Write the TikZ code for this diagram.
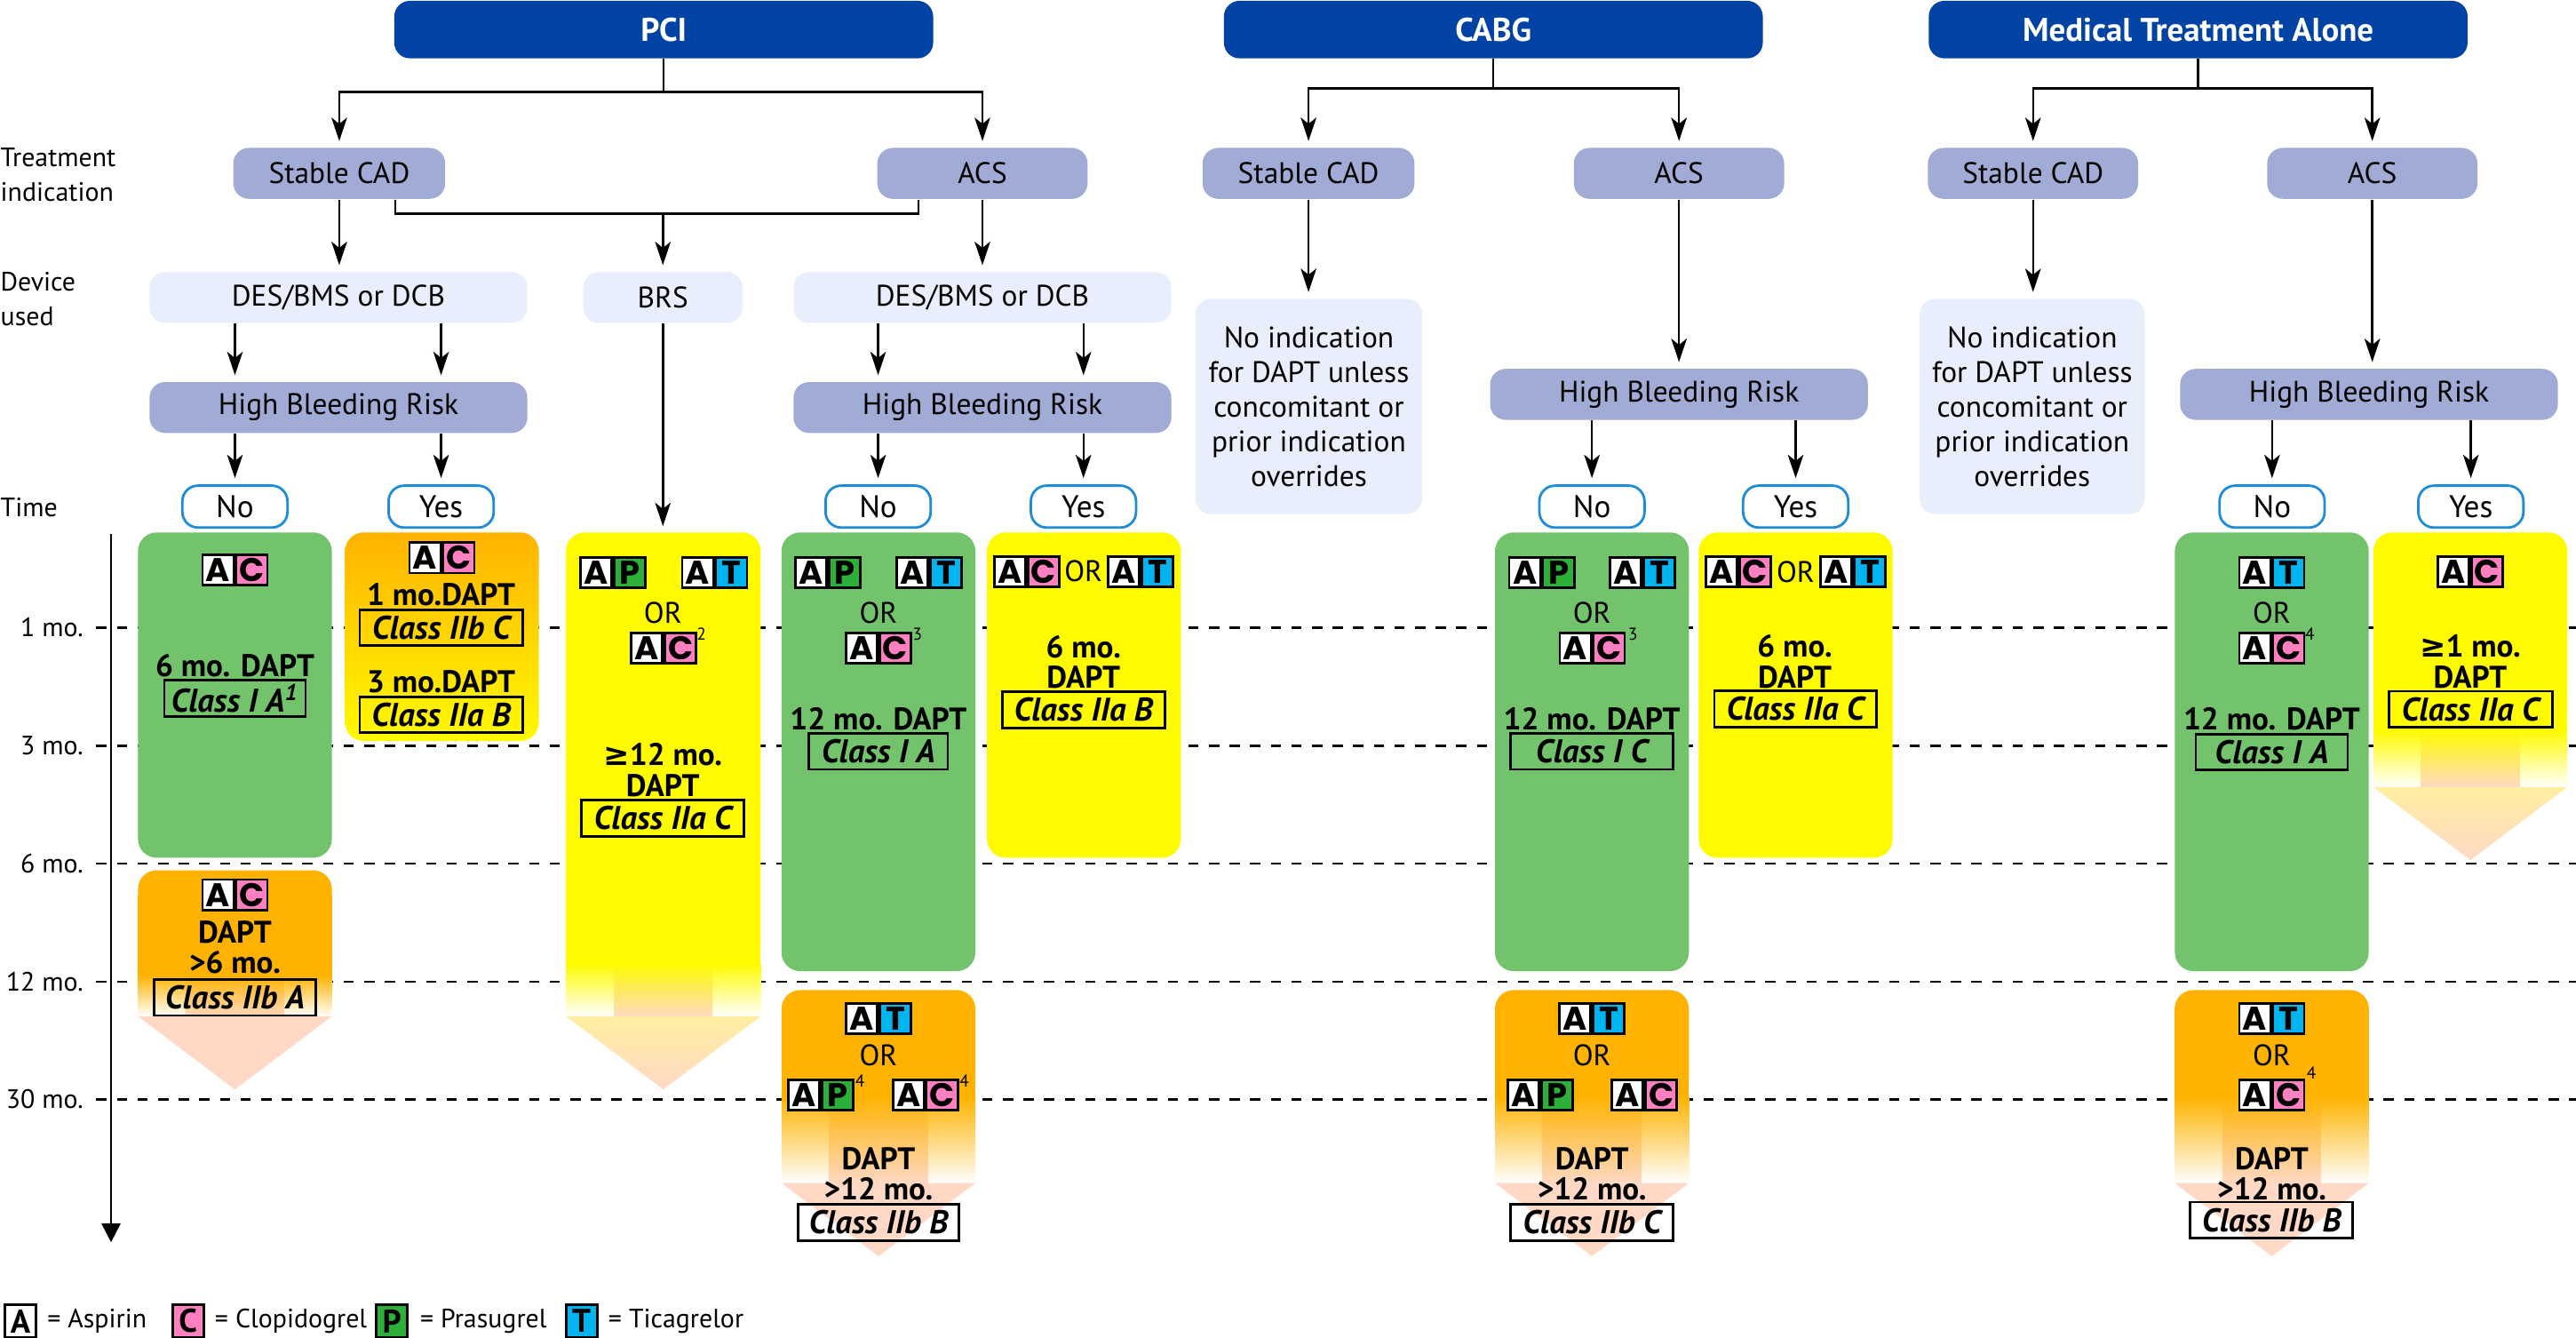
\documentclass[tikz,border=0pt]{standalone}
\usepackage{fontspec}
\setmainfont{PT Sans}
\newfontfamily\chipfont{Poppins}
\newfontfamily\geqfont{DejaVu Sans}
\usetikzlibrary{positioning,arrows.meta}

\definecolor{hdrblue}{RGB}{0,67,165}
\definecolor{lav}{RGB}{160,172,214}
\definecolor{pale}{RGB}{232,238,252}
\definecolor{ansblue}{RGB}{30,140,215}
\definecolor{grn}{RGB}{114,195,108}
\definecolor{org}{RGB}{255,179,0}
\definecolor{ylw}{RGB}{255,250,0}
\definecolor{peach}{RGB}{255,217,197}
\definecolor{lemon}{RGB}{255,238,160}
\definecolor{clopi}{RGB}{255,128,192}
\definecolor{prasu}{RGB}{45,176,58}
\definecolor{ticag}{RGB}{0,180,240}

\newcommand{\dpu}{0.5262pt}

\newcommand{\duo}[5]{%
  \node[drug, fill=white, anchor=east] (#1a) at (#2,#3) {A};
  \node[drug, fill=#4, anchor=west] (#1b) at (#2,#3) {#5};}

\newcommand{\fadebox}[8]{%
  \fill[#7, rounded corners=6pt] (#1,#3) rectangle (#2,#4);
  \fill[#7] (#1,#3+15) rectangle (#2,#4);
  \shade[top color=#7, bottom color=white] (#1,#4-0.5) rectangle (#2,#5);
  \shade[top color=#7, bottom color=peach] ({(#1+#2)/2-30},#4-0.5) rectangle ({(#1+#2)/2+30},#5+0.5);
  \shade[top color=#8, bottom color=peach] (#1,#5) -- (#2,#5) -- ({(#1+#2)/2},#6) -- cycle;}

\begin{document}
\begin{tikzpicture}[x=0.5262pt, y=-0.5262pt, node distance=3pt,
    hdr/.style={rounded corners=5pt, fill=hdrblue, text=white, font=\bfseries\fontsize{10.5}{12}\selectfont, minimum width=328*\dpu, minimum height=35*\dpu},
    ind/.style={rounded corners=5pt, fill=lav, font=\fontsize{9.5}{11}\selectfont, minimum height=31*\dpu},
    dev/.style={rounded corners=5pt, fill=pale, font=\fontsize{9.5}{11}\selectfont, minimum height=31*\dpu},
    ans/.style={rounded corners=5pt, draw=ansblue, line width=0.8pt, fill=white, font=\fontsize{10}{12}\selectfont, minimum width=64*\dpu, minimum height=25.5*\dpu, inner sep=0pt},
    tbox/.style={rounded corners=6pt, minimum width=118*\dpu, inner sep=0pt},
    dapt/.style={font=\bfseries\fontsize{10}{9.8}\selectfont, align=center, inner sep=0pt},
    cls/.style={draw, line width=0.8pt, font=\bfseries\itshape\fontsize{10.5}{11}\selectfont, minimum height=22*\dpu, minimum width=#1*\dpu, inner sep=1pt},
    cls/.default=99,
    ortxt/.style={font=\fontsize{9.5}{11}\selectfont, inner sep=0pt},
    sup/.style={font=\fontsize{5.5}{6}\selectfont, inner sep=0pt},
    drug/.style={draw, line width=0.8pt, minimum width=19*\dpu, minimum height=18.5*\dpu, inner sep=0pt, font=\chipfont\bfseries\fontsize{10.5}{10}\selectfont},
    legd/.style={drug, minimum height=20*\dpu, font=\bfseries\fontsize{10.5}{11}\selectfont},
    lab/.style={font=\fontsize{8.5}{11}\selectfont, align=left, inner sep=0pt},
    link/.style={line width=0.7pt},
    arr/.style={line width=0.7pt, -{Stealth[length=7.5pt, width=5pt, inset=2pt]}, shorten >=2pt},
  ]
  \useasboundingbox (0,0) rectangle (1568,814);

  % time axis
  \foreach \yy/\lbl [count=\i] in {382/1 mo.,454/3 mo.,525.5/6 mo.,597.5/12 mo.,669/30 mo.}{
    \node[lab, anchor=east] (t\i) at (51,\yy) {\lbl};
    \draw[line width=0.7pt, dash pattern=on 3.3pt off 3.3pt] ([xshift=4pt]t\i.east) -- (1568,\yy);
  }
  \coordinate (tltop) at (67.6,325);
  \coordinate (tlend) at (67.6,756);
  \draw[link, -{Triangle[length=6pt, width=6pt]}] (tltop) -- (tlend);

  \node[lab, anchor=west] (ltreat) at (0,106.5) {Treatment\\indication};
  \node[lab, anchor=west] (ldev)   at (0,182)   {Device\\used};
  \node[lab, anchor=west] (ltime)  at (0,309)   {Time};

  % treatment boxes
  \node[tbox, fill=grn, minimum height=198*\dpu] (gs1) at (143,423) {};
  \node[tbox, top color=org, bottom color=ylw, minimum height=127*\dpu] (os1) at (269,387.5) {};
  \node[tbox, fill=grn, minimum height=267*\dpu] (ga1) at (534.7,457.5) {};
  \node[tbox, fill=ylw, minimum height=198*\dpu] (ya1) at (659.75,423) {};
  \node[tbox, fill=grn, minimum height=267*\dpu] (gc)  at (969,457.5) {};
  \node[tbox, fill=ylw, minimum height=198*\dpu] (yc)  at (1093,423) {};
  \node[tbox, fill=grn, minimum height=267*\dpu] (gm)  at (1382.8,457.5) {};

  \fadebox{84}{202}{529.6}{594}{618.5}{663}{org}{peach}
  \fadebox{344.5}{463}{324}{587}{618.5}{663}{ylw}{lemon}
  \fadebox{475.7}{593.7}{602.5}{668}{720}{764.5}{org}{peach}
  \fadebox{910}{1028}{602.5}{668}{720}{764.5}{org}{peach}
  \fadebox{1323.7}{1441.9}{602.5}{668}{720}{764.5}{org}{peach}
  \fadebox{1444.7}{1562.7}{324}{445}{479}{523.4}{ylw}{lemon}

  % headers and decisions
  \node[hdr] (pci)  at (404,18)  {PCI};
  \node[hdr] (cabg) at (909,18)  {CABG};
  \node[hdr] (mta)  at (1338,18) {Medical Treatment Alone};

  \node[ind, minimum width=129*\dpu] (pcisc)   at (206.5,105.5)  {Stable CAD};
  \node[ind, minimum width=128*\dpu] (pciacs)  at (598,105.5)    {ACS};
  \node[ind, minimum width=129*\dpu] (cabgsc)  at (796.5,105.5)  {Stable CAD};
  \node[ind, minimum width=128*\dpu] (cabgacs) at (1022,105.5)   {ACS};
  \node[ind, minimum width=128*\dpu] (mtasc)   at (1237.5,105.5) {Stable CAD};
  \node[ind, minimum width=128*\dpu] (mtaacs)  at (1444,105.5)   {ACS};

  \node[dev, minimum width=230*\dpu] (pcides1) at (206,181)   {DES/BMS or DCB};
  \node[dev, minimum width=97*\dpu]  (pcibrs)  at (403.5,181) {BRS};
  \node[dev, minimum width=230*\dpu] (pcides2) at (598,181)   {DES/BMS or DCB};

  \node[dev, align=center, minimum width=138*\dpu, minimum height=131*\dpu, font=\fontsize{9.5}{11.1}\selectfont] (cabgnone) at (796.7,247.4) {No indication\\for DAPT unless\\concomitant or\\prior indication\\overrides};
  \node[dev, align=center, minimum width=137*\dpu, minimum height=131*\dpu, font=\fontsize{9.5}{11.1}\selectfont] (mtanone) at (1237,247.4) {No indication\\for DAPT unless\\concomitant or\\prior indication\\overrides};

  \node[ind, minimum width=230*\dpu] (pcihbr1) at (206,248)  {High Bleeding Risk};
  \node[ind, minimum width=230*\dpu] (pcihbr2) at (598,248)  {High Bleeding Risk};
  \node[ind, minimum width=230*\dpu] (cabghbr) at (1022,240) {High Bleeding Risk};
  \node[ind, minimum width=230*\dpu] (mtahbr)  at (1442,240) {High Bleeding Risk};

  \node[ans] (pcino1)  at (143,308.3)   {No};
  \node[ans] (pciyes1) at (268.5,308.3) {Yes};
  \node[ans] (pcino2)  at (534.5,308.3) {No};
  \node[ans] (pciyes2) at (659.5,308.3) {Yes};
  \node[ans] (cabgno)  at (969,308.3)   {No};
  \node[ans] (cabgyes) at (1093,308.3)  {Yes};
  \node[ans] (mtano)   at (1383,308.3)  {No};
  \node[ans] (mtayes)  at (1504,308.3)  {Yes};

  % connectors
  \draw[arr] (pci.south) -- ++(0,20) -| (pcisc.north);
  \draw[arr] (pci.south) -- ++(0,20) -| (pciacs.north);
  \draw[arr] (pcisc.south) -- (pcisc.south |- pcides1.north);
  \coordinate (scout) at ([xshift=18pt]pcisc.south);
  \coordinate (acsout) at ([xshift=-20.5pt]pciacs.south);
  \coordinate (brsj) at (403.5,130);
  \coordinate (brstop) at (403.5,324);
  \draw[link] (scout) |- (brsj) -| (acsout);
  \draw[arr] (brsj) -- (pcibrs);
  \draw[arr] (pcibrs) -- (brstop);
  \draw[arr] (pciacs.south) -- (pciacs.south |- pcides2.north);
  \draw[arr] (pcides1.south -| pcino1) -- (pcihbr1.north -| pcino1);
  \draw[arr] (pcides1.south -| pciyes1) -- (pcihbr1.north -| pciyes1);
  \draw[arr] (pcides2.south -| pcino2) -- (pcihbr2.north -| pcino2);
  \draw[arr] (pcides2.south -| pciyes2) -- (pcihbr2.north -| pciyes2);
  \draw[arr] (pcihbr1.south -| pcino1) -- (pcino1);
  \draw[arr] (pcihbr1.south -| pciyes1) -- (pciyes1);
  \draw[arr] (pcihbr2.south -| pcino2) -- (pcino2);
  \draw[arr] (pcihbr2.south -| pciyes2) -- (pciyes2);

  \draw[arr] (cabg.south) -- ++(0,18) -| (cabgsc.north);
  \draw[arr] (cabg.south) -- ++(0,18) -| (cabgacs.north);
  \draw[arr] (cabgsc.south) -- (cabgsc.south |- cabgnone.north);
  \draw[arr] (cabgacs.south) -- (cabgacs.south |- cabghbr.north);
  \draw[arr] (cabghbr.south -| cabgno) -- (cabgno);
  \draw[arr] (cabghbr.south -| cabgyes) -- (cabgyes);

  \draw[arr] (mta.south) -- ++(0,18) -| (mtasc.north);
  \draw[arr] (mta.south) -- ++(0,18) -| (mtaacs.north);
  \draw[arr] (mtasc.south) -- (mtasc.south |- mtanone.north);
  \draw[arr] (mtaacs.south) -- (mtaacs.south |- mtahbr.north);
  \draw[arr] (mtahbr.south -| mtano) -- (mtano);
  \draw[arr] (mtahbr.south -| mtayes) -- (mtayes);

  % PCI, stable CAD
  \duo{gs1d}{143}{347}{clopi}{C}
  \node[dapt] (gs1t) at (143,405) {6 mo. DAPT};
  \node[cls=86] (gs1c) at (143,425) {Class I A\textsuperscript{1}};

  \duo{os1d}{269}{339.5}{clopi}{C}
  \node[dapt] (os1t1) at (268.5,362) {1 mo.DAPT};
  \node[cls] (os1c1) at (268.5,382) {Class IIb C};
  \node[dapt] (os1t2) at (268.5,415) {3 mo.DAPT};
  \node[cls] (os1c2) at (268.5,435) {Class IIa B};

  \duo{fs1d}{143}{544.5}{clopi}{C}
  \node[dapt] (fs1t) at (143,576.5) {DAPT\\>6 mo.};
  \node[cls=98] (fs1c) at (143,607) {Class IIb A};

  % PCI, BRS
  \duo{brsd1}{373}{348.5}{prasu}{P}
  \duo{brsd2}{435}{348.5}{ticag}{T}
  \node[ortxt] (brsor) at (403.5,373) {OR};
  \duo{brsd3}{404}{394.5}{clopi}{C}
  \node[sup] (brss) at (427,386) {2};
  \node[dapt] (brst) at (403.5,468.5) {{\geqfont ≥}12 mo.\\DAPT};
  \node[cls] (brsc) at (403.5,498) {Class IIa C};

  % PCI, ACS
  \duo{ga1d1}{504}{348.4}{prasu}{P}
  \duo{ga1d2}{565.6}{348.4}{ticag}{T}
  \node[ortxt] (ga1or) at (534.7,373) {OR};
  \duo{ga1d3}{534.7}{394.5}{clopi}{C}
  \node[sup] (ga1s) at (558.5,386) {3};
  \node[dapt] (ga1t) at (534.7,437.7) {12 mo. DAPT};
  \node[cls=84.5] (ga1c) at (534.7,457.2) {Class I A};

  \duo{ya1d1}{625}{347.8}{clopi}{C}
  \node[ortxt] (ya1or) at (659.5,347.8) {OR};
  \duo{ya1d2}{694.3}{347.8}{ticag}{T}
  \node[dapt] (ya1t) at (659.5,403) {6 mo.\\DAPT};
  \node[cls] (ya1c) at (659.5,432) {Class IIa B};

  \duo{fa1d1}{534.7}{620}{ticag}{T}
  \node[ortxt] (fa1or) at (534.7,642) {OR};
  \duo{fa1d2}{499.6}{666.5}{prasu}{P}
  \duo{fa1d3}{563.2}{666.5}{clopi}{C}
  \node[sup] (fa1s1) at (523.5,658) {4};
  \node[sup] (fa1s2) at (587,658) {4};
  \node[dapt] (fa1t) at (534.7,714.3) {DAPT\\>12 mo.};
  \node[cls=98] (fa1c) at (534.7,744) {Class IIb B};

  % CABG
  \duo{gcd1}{938.4}{348.4}{prasu}{P}
  \duo{gcd2}{999.8}{348.4}{ticag}{T}
  \node[ortxt] (gcor) at (969,373) {OR};
  \duo{gcd3}{969.2}{394.5}{clopi}{C}
  \node[sup] (gcs) at (994,386) {3};
  \node[dapt] (gct) at (969,437.4) {12 mo. DAPT};
  \node[cls] (gcc) at (969,457.2) {Class I C};

  \duo{ycd1}{1058}{348}{clopi}{C}
  \node[ortxt] (ycor) at (1093,348) {OR};
  \duo{ycd2}{1128}{348}{ticag}{T}
  \node[dapt] (yct) at (1092.5,402.5) {6 mo.\\DAPT};
  \node[cls=98.5] (ycc) at (1092.8,431.5) {Class IIa C};

  \duo{fcd1}{969}{620}{ticag}{T}
  \node[ortxt] (fcor) at (969,642) {OR};
  \duo{fcd2}{937.5}{666.5}{prasu}{P}
  \duo{fcd3}{1000.9}{666.5}{clopi}{C}
  \node[dapt] (fct) at (969,714.3) {DAPT\\>12 mo.};
  \node[cls] (fcc) at (969,744) {Class IIb C};

  % medical treatment alone
  \duo{gmd1}{1382.8}{348.4}{ticag}{T}
  \node[ortxt] (gmor) at (1382.8,373) {OR};
  \duo{gmd2}{1382.8}{394.5}{clopi}{C}
  \node[sup] (gms) at (1406,386) {4};
  \node[dapt] (gmt) at (1382.8,437.7) {12 mo. DAPT};
  \node[cls=92.4] (gmc) at (1382.8,457.7) {Class I A};

  \duo{fmyd}{1503.6}{347.8}{clopi}{C}
  \node[dapt] (fmyt) at (1503.6,402.6) {{\geqfont ≥}1 mo.\\DAPT};
  \node[cls=99.6] (fmyc) at (1503.8,431.6) {Class IIa C};

  \duo{fmd1}{1382.8}{620}{ticag}{T}
  \node[ortxt] (fmor) at (1382.8,642) {OR};
  \duo{fmd2}{1382.8}{666.5}{clopi}{C}
  \node[sup] (fms) at (1407,653) {4};
  \node[dapt] (fmt) at (1382.8,714.3) {DAPT\\>12 mo.};
  \node[cls] (fmc) at (1382.7,742.5) {Class IIb B};

  % legend
  \node[legd, fill=white] (la) at (12.5,804) {A};
  \node[lab, right=3pt of la] (lta) {= Aspirin};
  \node[legd, fill=clopi] (lc) at (114.5,804) {C};
  \node[lab, right=3pt of lc] (ltc) {= Clopidogrel};
  \node[legd, fill=prasu] (lp) at (238.5,804) {P};
  \node[lab, right=3.5pt of lp] (ltp) {= Prasugrel};
  \node[legd, fill=ticag] (lt) at (354,804) {T};
  \node[lab, right=3pt of lt] (ltt) {= Ticagrelor};
\end{tikzpicture}
\end{document}
